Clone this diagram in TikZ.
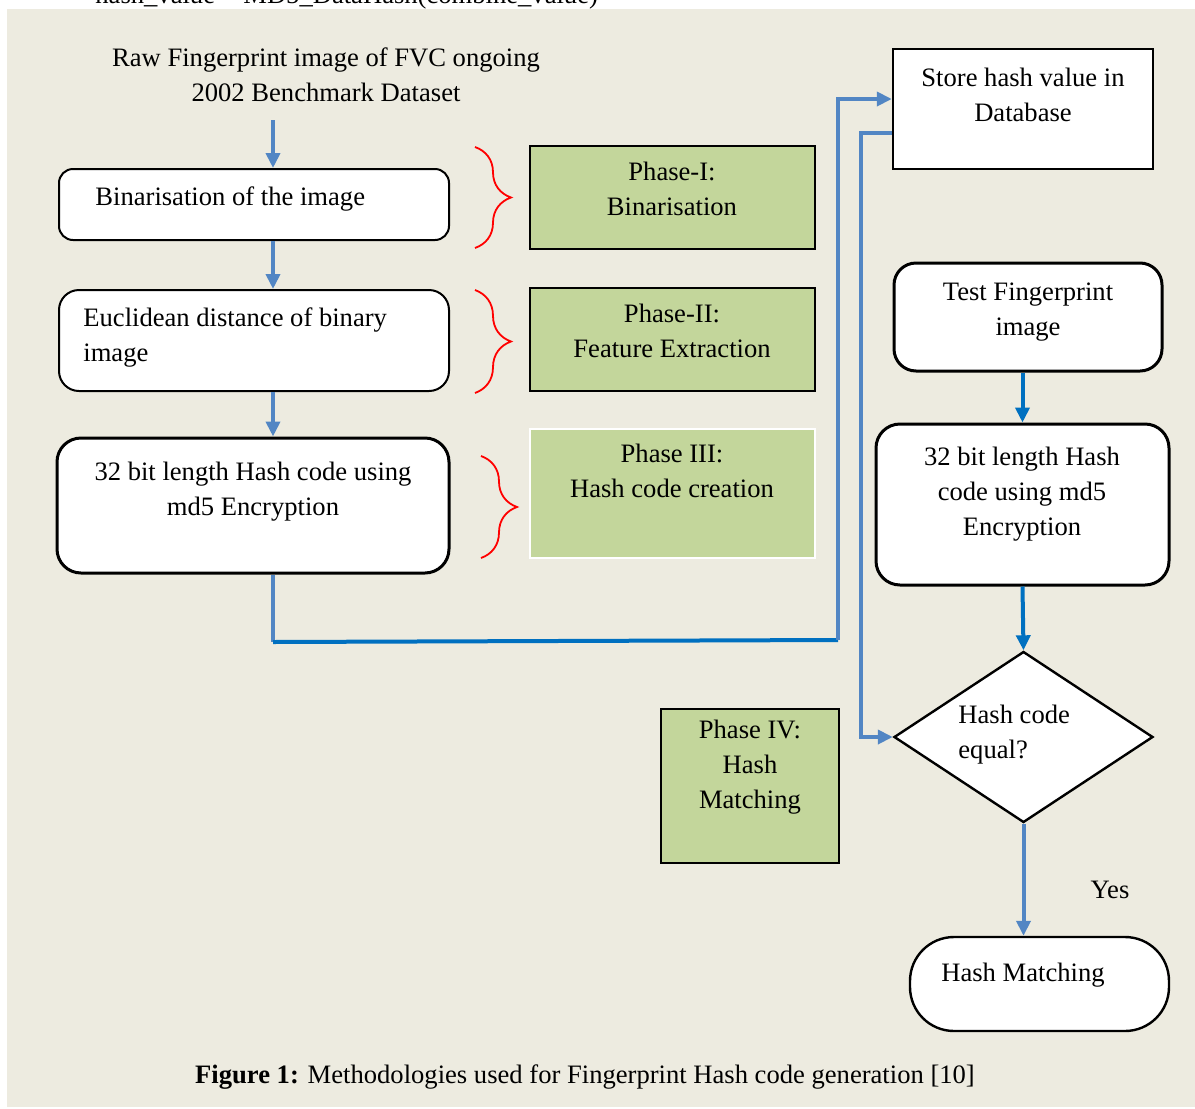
\documentclass[tikz,border=0pt]{standalone}
\usepackage{fontspec}
\setmainfont{Liberation Serif}
\usetikzlibrary{fit,positioning,shapes.geometric,arrows.meta,decorations.pathreplacing}
\definecolor{bgbeige}{RGB}{237,235,224}
\definecolor{phasegreen}{RGB}{195,214,155}
\definecolor{flowblue}{RGB}{82,134,196}
\definecolor{deepblue}{RGB}{0,112,192}
\tikzset{
	txt/.style={font=\fontsize{13.3}{17.5}\selectfont, inner sep=0pt},
	rbox/.style={draw, fill=white, line width=1pt, rounded corners=7pt, inner sep=0pt},
	phasebox/.style={draw, fill=phasegreen, line width=0.8pt, inner sep=0pt},
	barrow/.style={draw=flowblue, line width=2pt, -{Triangle[length=7.5pt,width=7pt]}},
	bline/.style={draw=flowblue, line width=2pt},
	dline/.style={draw=deepblue, line width=2pt},
	darrow/.style={draw=deepblue, line width=2pt, -{Triangle[length=7.5pt,width=7pt]}},
	redbrace/.style={draw=red, line width=0.9pt, decorate, decoration={brace, amplitude=18pt}}
}

\begin{document}
\begin{tikzpicture}[x=0.5pt, y=-0.5pt]
	\useasboundingbox (0,0) rectangle (1195,1109);
	\clip (0,0) rectangle (1195,1109);
	\fill [bgbeige] (7,9) rectangle (1195,1107);
	\node [txt, anchor=base west] (hashline) at (95,3) {hash\_value = MD5\_DataHash(combine\_value)};

	\node [txt, align=center] (raw) at (326,75) {Raw Fingerprint image of FVC ongoing\\2002 Benchmark Dataset};

	\node [rbox, fit={(59,169) (449,240)}] (bin) {};
	\node [txt, anchor=west] (bintext) at (95,199) {Binarisation of the image};
	\node [rbox, rounded corners=10pt, fit={(59,290) (449,391)}] (eucl) {};
	\node [txt, anchor=west, align=left] (eucltext) at (83,337) {Euclidean distance of binary\\image};
	\node [rbox, line width=1.5pt, rounded corners=12pt, fit={(57,438) (449,573)}] (hashgen) {};
	\node [txt, align=center] (hashgentext) at (253,492) {32 bit length Hash code using\\md5 Encryption};

	\draw [redbrace] (475,147) -- (475,248);
	\draw [redbrace] (475,290) -- (475,393);
	\draw [redbrace] (481,456) -- (481,558);

	\node [phasebox, fit={(530,146) (815,249)}] (ph1) {};
	\node [txt, align=center] (ph1text) at (672,189) {Phase-I:\\Binarisation};
	\node [phasebox, fit={(530,288) (815,391)}] (ph2) {};
	\node [txt, align=center] (ph2text) at (672,331) {Phase-II:\\Feature Extraction};
	\node [phasebox, draw=white, line width=1pt, fit={(530,429) (815,558)}] (ph3) {};
	\node [txt, align=center] (ph3text) at (672,471) {Phase III:\\Hash code creation};
	\node [phasebox, fit={(661,709) (839,863)}] (ph4) {};
	\node [txt, align=center] (ph4text) at (750,767) {Phase IV:\\Hash\\Matching};

	\node [draw, fill=white, line width=1.2pt, inner sep=0pt, fit={(893,49) (1153,169)}] (store) {};
	\node [txt, align=center] (storetext) at (1023,95) {Store hash value in\\Database};
	\node [rbox, line width=1.5pt, rounded corners=11pt, fit={(894,263) (1162,371)}] (test) {};
	\node [txt, align=center] (testtext) at (1028,312) {Test Fingerprint\\image};
	\node [rbox, line width=1.5pt, rounded corners=12pt, fit={(876,424) (1169,585)}] (testhash) {};
	\node [txt, align=center] (testhashtext) at (1022,494) {32 bit length Hash\\code using md5\\Encryption};
	\node [draw, fill=white, line width=1.2pt, diamond, inner sep=0pt, minimum width=129.5pt, minimum height=85.5pt] (equal) at (1023.5,737) {};
	\node [txt, anchor=west, align=left] (equaltext) at (958,735) {Hash code\\equal?};
	\node [rbox, line width=1.2pt, rounded corners=22pt, fit={(910,937) (1169,1031)}] (match) {};
	\node [txt] (matchtext) at (1023,975) {Hash Matching};
	\node [txt] (yes) at (1110,890) {Yes};

	\node [txt] (caption) at (585,1077) {\textbf{Figure 1:} Methodologies used for Fingerprint Hash code generation [10]};

	\coordinate (col) at (273,0);
	\coordinate (src) at (273,120);
	\coordinate (k1) at (273,642);
	\coordinate (k2) at (838,640);
	\coordinate (k3) at (838,99);
	\coordinate (k4) at (861,133);
	\coordinate (k5) at (861,737);
	\draw [barrow] (src) -- (bin.north -| col);
	\draw [barrow] (bin.south -| col) -- (eucl.north -| col);
	\draw [barrow] (eucl.south -| col) -- (hashgen.north -| col);
	\draw [bline] (hashgen.south -| col) -- (k1);
	\draw [dline] (k1) -- (k2);
	\draw [barrow] (k2) -- (k3) -- (k3 -| store.west);
	\draw [barrow] (k4 -| store.west) -- (k4) -- (k5) -- (equal.west);
	\draw [darrow] (test.south -| testhash) -- (testhash.north);
	\draw [darrow] (testhash.south) -- (equal.north);
	\draw [barrow] (equal.south) -- (equal.south |- match.north);
\end{tikzpicture}
\end{document}
